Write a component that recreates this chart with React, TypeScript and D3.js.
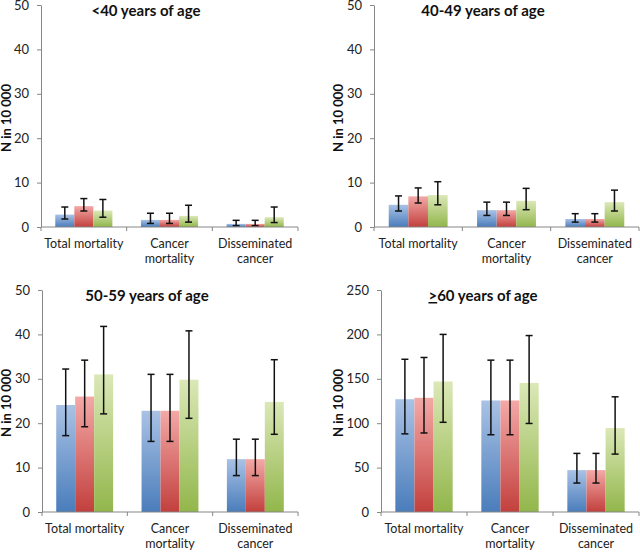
import React, { useEffect, useRef } from 'react';
import * as d3 from 'd3';

const categories = ['Total mortality', 'Cancer mortality', 'Disseminated cancer'];
const categoryLines = [['Total mortality'], ['Cancer', 'mortality'], ['Disseminated', 'cancer']];
const series = ['blue', 'red', 'green'];

// values per panel: [category][series]
const under40 = [[2.8, 4.7, 3.7], [1.6, 1.6, 2.5], [0.7, 0.7, 2.2]];
const under40Lo = [[1.8, 3.6, 2.2], [0.8, 0.8, 1.1], [0.3, 0.3, 1.0]];
const under40Hi = [[4.5, 6.4, 6.2], [3.1, 3.1, 4.9], [1.5, 1.5, 4.5]];

const age40to49 = [[5.0, 6.9, 7.2], [3.8, 3.8, 5.9], [1.8, 1.8, 5.6]];
const age40to49Lo = [[3.6, 5.4, 5.0], [2.6, 2.6, 3.9], [1.1, 1.1, 3.6]];
const age40to49Hi = [[7.0, 8.8, 10.2], [5.6, 5.6, 8.7], [3.0, 3.0, 8.3]];

const age50to59 = [[24.1, 26.0, 31.0], [22.8, 22.8, 29.8], [11.9, 11.9, 24.8]];
const age50to59Lo = [[17.2, 19.2, 22.1], [15.9, 15.9, 21.1], [8.2, 8.2, 17.5]];
const age50to59Hi = [[32.2, 34.2, 41.8], [31.0, 31.0, 40.8], [16.4, 16.4, 34.3]];

const over60 = [[127, 128.6, 147], [125.6, 125.6, 145.4], [47.2, 47.2, 94.5]];
const over60Lo = [[88, 89, 101], [87, 87, 99.7], [32.6, 32.6, 65.2]];
const over60Hi = [[172, 174, 200], [171, 171, 198.7], [66, 66, 129.7]];

const smallTicks = [0, 10, 20, 30, 40, 50];
const bigTicks = [0, 50, 100, 150, 200, 250];

const FONT = 'Lato, "Open Sans", sans-serif';

const colors = {
  blue: ['#a9c2e5', '#4a7dbb'],
  red: ['#f3a9a7', '#c2403d'],
  green: ['#dbe8b7', '#92b64b'],
};

// title: [underlined prefix, rest]
const panels = [
  { title: ['', '<40 years of age'], vals: under40, lo: under40Lo, hi: under40Hi, ticks: smallTicks, left: 41, right: 298, y0: 227, yTop: 5, titleX: 146, titleY: 16, labelX: 2 },
  { title: ['', '40-49 years of age'], vals: age40to49, lo: age40to49Lo, hi: age40to49Hi, ticks: smallTicks, left: 374, right: 639, y0: 227, yTop: 5, titleX: 483, titleY: 16, labelX: 334 },
  { title: ['', '50-59 years of age'], vals: age50to59, lo: age50to59Lo, hi: age50to59Hi, ticks: smallTicks, left: 42, right: 298, y0: 512, yTop: 290, titleX: 147, titleY: 301, labelX: 2 },
  { title: ['>', '60 years of age'], vals: over60, lo: over60Lo, hi: over60Hi, ticks: bigTicks, left: 381, right: 639, y0: 512, yTop: 290, titleX: 483, titleY: 301, labelX: 334 },
];

const App = () => {
  const svgRef = useRef(null);

  useEffect(() => {
    const svg = d3.select(svgRef.current);
    svg.selectAll('*').remove();

    const defs = svg.append('defs');
    Object.entries(colors).forEach(([k, [top, bottom]]) => {
      const g = defs.append('linearGradient').attr('id', 'grad-' + k).attr('x1', 0).attr('y1', 0).attr('x2', 0).attr('y2', 1);
      g.append('stop').attr('offset', '0%').attr('stop-color', top);
      g.append('stop').attr('offset', '100%').attr('stop-color', bottom);
    });

    panels.forEach((p) => {
      const g = svg.append('g');

      const y = d3.scaleLinear().domain([0, p.ticks[p.ticks.length - 1]]).range([p.y0, p.yTop]);
      const x0 = d3.scaleBand().domain(categories).range([p.left, p.right]);
      const bw = x0.bandwidth();
      const x1 = d3.scaleBand().domain(series).range([bw / 6, bw - bw / 6]);

      // bars
      categories.forEach((c, ci) => {
        series.forEach((s, si) => {
          const v = p.vals[ci][si];
          g.append('rect')
            .attr('x', x0(c) + x1(s))
            .attr('y', y(v))
            .attr('width', x1.bandwidth())
            .attr('height', p.y0 - y(v))
            .attr('fill', `url(#grad-${s})`);
        });
      });

      // error bars
      categories.forEach((c, ci) => {
        series.forEach((s, si) => {
          const cx = x0(c) + x1(s) + x1.bandwidth() / 2;
          const lo = y(p.lo[ci][si]);
          const hi = y(p.hi[ci][si]);
          const eg = g.append('g').attr('stroke', '#111').attr('stroke-width', 1.5);
          eg.append('line').attr('x1', cx).attr('x2', cx).attr('y1', lo).attr('y2', hi);
          eg.append('line').attr('x1', cx - 3.5).attr('x2', cx + 3.5).attr('y1', lo).attr('y2', lo);
          eg.append('line').attr('x1', cx - 3.5).attr('x2', cx + 3.5).attr('y1', hi).attr('y2', hi);
        });
      });

      // y axis
      const ya = g.append('g')
        .attr('transform', `translate(${p.left},0)`)
        .call(d3.axisLeft(y).tickValues(p.ticks).tickSize(4).tickSizeOuter(0).tickPadding(8));
      ya.select('.domain').attr('stroke', '#868686');
      ya.selectAll('.tick line').attr('stroke', '#868686');
      ya.selectAll('.tick text').attr('font-family', FONT).attr('font-size', 13).attr('fill', '#222');

      // x axis
      g.append('line').attr('x1', p.left).attr('x2', p.right).attr('y1', p.y0).attr('y2', p.y0).attr('stroke', '#868686');
      const bounds = categories.map((c) => x0(c)).concat([p.right]);
      g.selectAll('.xtick').data(bounds).join('line')
        .attr('x1', (d) => d).attr('x2', (d) => d)
        .attr('y1', p.y0).attr('y2', p.y0 + 4)
        .attr('stroke', '#868686');

      categories.forEach((c, ci) => {
        const t = g.append('text')
          .attr('x', x0(c) + bw / 2)
          .attr('y', p.y0 + 21)
          .attr('text-anchor', 'middle')
          .attr('font-family', FONT)
          .attr('font-size', 12.5)
          .attr('fill', '#222');
        categoryLines[ci].forEach((line, li) => {
          t.append('tspan').attr('x', x0(c) + bw / 2).attr('dy', li === 0 ? 0 : 15).text(line);
        });
      });

      // title
      const tt = g.append('text')
        .attr('x', p.titleX)
        .attr('y', p.titleY)
        .attr('text-anchor', 'middle')
        .attr('font-family', FONT)
        .attr('font-weight', 'bold')
        .attr('font-size', 15)
        .attr('fill', '#111');
      if (p.title[0]) tt.append('tspan').attr('text-decoration', 'underline').text(p.title[0]);
      tt.append('tspan').text(p.title[1]);

      // y label
      g.append('text')
        .attr('transform', `translate(${p.labelX},${(p.y0 + p.yTop) / 2 + 2}) rotate(-90)`)
        .attr('dy', '0.7em')
        .attr('text-anchor', 'middle')
        .attr('font-family', FONT)
        .attr('font-weight', 'bold')
        .attr('font-size', 13)
        .attr('fill', '#111')
        .text('N in 10 000');
    });
  }, []);

  return (
    <svg ref={svgRef} width={640} height={552} style={{ position: 'absolute', left: 0, top: 0, background: '#fff' }}></svg>
  );
};

export default App;
